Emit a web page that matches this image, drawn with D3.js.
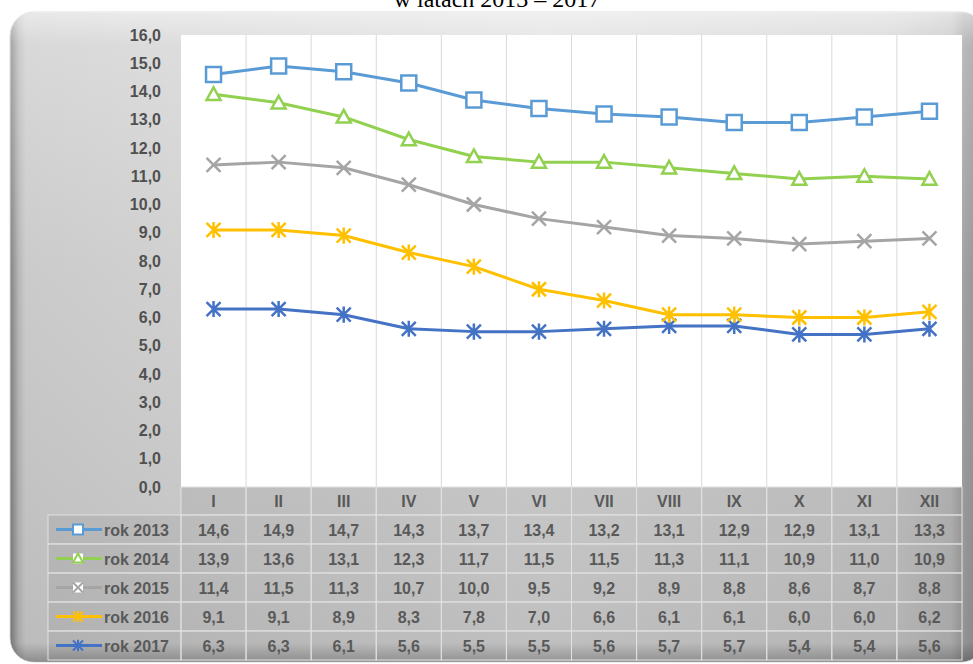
<!DOCTYPE html>
<html>
<head>
<meta charset="utf-8">
<script src="https://cdn.jsdelivr.net/npm/d3@7"></script>
<style>
  body { margin: 0; background: #fff; }
  svg { display: block; }
</style>
</head>
<body>
<script>
// data
const months = ["I", "II", "III", "IV", "V", "VI", "VII", "VIII", "IX", "X", "XI", "XII"];
const seriesNames = ["rok 2013", "rok 2014", "rok 2015", "rok 2016", "rok 2017"];
const rok2013 = [14.6, 14.9, 14.7, 14.3, 13.7, 13.4, 13.2, 13.1, 12.9, 12.9, 13.1, 13.3];
const rok2014 = [13.9, 13.6, 13.1, 12.3, 11.7, 11.5, 11.5, 11.3, 11.1, 10.9, 11.0, 10.9];
const rok2015 = [11.4, 11.5, 11.3, 10.7, 10.0, 9.5, 9.2, 8.9, 8.8, 8.6, 8.7, 8.8];
const rok2016 = [9.1, 9.1, 8.9, 8.3, 7.8, 7.0, 6.6, 6.1, 6.1, 6.0, 6.0, 6.2];
const rok2017 = [6.3, 6.3, 6.1, 5.6, 5.5, 5.5, 5.6, 5.7, 5.7, 5.4, 5.4, 5.6];
const yTicks = d3.range(0, 17, 1);

const app = {

  W: 973,
  H: 664,
  plot: { left: 181, right: 962, top: 35, bottom: 487 },
  legendLeft: 48,
  rowH: 29,

  init: () => {
    app.svg = d3.select("body").append("svg")
      .attr("width", app.W)
      .attr("height", app.H);
    app.frame();
    app.scales();
    app.grid();
    app.lines();
    app.table();
  },

  fmt: (v) => v.toFixed(1).replace(".", ","),

  styles: [
    { color: "#5B9BD5", marker: "square" },
    { color: "#92D050", marker: "triangle" },
    { color: "#A5A5A5", marker: "cross" },
    { color: "#FFC000", marker: "star" },
    { color: "#4472C4", marker: "star" }
  ],

  frame: () => {
    const defs = app.svg.append("defs");
    const h = defs.append("linearGradient").attr("id", "bgH");
    [["0%", "#7a7a7a"], ["0.9%", "#b4b4b4"], ["1.6%", "#c8c8c8"], ["20%", "#cfcfcf"], ["55%", "#dadada"],
     ["90%", "#cdcdcd"], ["96.5%", "#bcbcbc"], ["98%", "#9a9a9a"], ["100%", "#8a8a8a"]]
      .forEach(s => h.append("stop").attr("offset", s[0]).attr("stop-color", s[1]));
    const v = defs.append("linearGradient").attr("id", "bgV")
      .attr("x1", 0).attr("x2", 0).attr("y1", 0).attr("y2", 1);
    v.append("stop").attr("offset", "0%").attr("stop-color", "#fff").attr("stop-opacity", 0.6);
    v.append("stop").attr("offset", "5%").attr("stop-color", "#fff").attr("stop-opacity", 0.3);
    v.append("stop").attr("offset", "40%").attr("stop-color", "#fff").attr("stop-opacity", 0.05);
    v.append("stop").attr("offset", "97%").attr("stop-color", "#000").attr("stop-opacity", 0.06);
    v.append("stop").attr("offset", "100%").attr("stop-color", "#000").attr("stop-opacity", 0.3);

    // title, mostly cut off at the top of the picture
    app.svg.append("text")
      .attr("x", 497)
      .attr("y", 7)
      .attr("text-anchor", "middle")
      .style("font-family", "'Liberation Serif', 'Times New Roman', serif")
      .style("font-size", "24px")
      .style("fill", "#000")
      .text("w latach 2013 – 2017");

    app.svg.append("rect")
      .attr("x", 10).attr("y", 12)
      .attr("width", 975).attr("height", 650)
      .attr("rx", 24)
      .style("fill", "url(#bgH)")
      .style("stroke", "#dcdcdc");
    app.svg.append("rect")
      .attr("x", 10).attr("y", 12)
      .attr("width", 975).attr("height", 650)
      .attr("rx", 24)
      .style("fill", "url(#bgV)");
  },

  scales: () => {
    const p = app.plot;
    app.x = d3.scaleBand().domain(months).range([p.left, p.right]);
    app.y = d3.scaleLinear().domain([0, 16]).range([p.bottom, p.top]);
  },

  grid: () => {
    const p = app.plot;
    app.svg.append("rect")
      .attr("x", p.left).attr("y", p.top)
      .attr("width", p.right - p.left).attr("height", p.bottom - p.top)
      .style("fill", "#fff");

    // vertical grid lines at the column edges
    app.svg.append("g").selectAll("line")
      .data(months.slice(1))
      .enter()
      .append("line")
      .attr("x1", d => app.x(d)).attr("x2", d => app.x(d))
      .attr("y1", p.top).attr("y2", p.bottom)
      .style("stroke", "#d9d9d9")
      .style("stroke-width", 1);

    const yAxis = d3.axisLeft(app.y)
      .tickValues(yTicks)
      .tickFormat(app.fmt)
      .tickSize(0)
      .tickPadding(0);
    const g = app.svg.append("g")
      .attr("transform", "translate(161,0)")
      .call(yAxis);
    g.select(".domain").remove();
    g.selectAll("text")
      .style("font-family", "'Liberation Sans', Arial, sans-serif")
      .style("font-size", "16px")
      .style("font-weight", "bold")
      .style("fill", "#505050");
  },

  markerPath: (type, s) => {
    const r = s / 2;
    if (type === "square") return `M${-r},${-r}H${r}V${r}H${-r}Z`;
    if (type === "triangle") return `M0,${-r}L${r},${r * 0.8}H${-r}Z`;
    if (type === "cross") return `M${-r},${-r}L${r},${r}M${r},${-r}L${-r},${r}`;
    return `M${-r},${-r}L${r},${r}M${r},${-r}L${-r},${r}M0,${-r * 1.15}V${r * 1.15}`;
  },

  drawMarker: (sel, st, size, sw) => {
    sel.append("path")
      .attr("d", app.markerPath(st.marker, size))
      .style("fill", (st.marker === "square" || st.marker === "triangle") ? "#fff" : "none")
      .style("stroke", st.color)
      .style("stroke-width", sw);
  },

  lines: () => {
    const all = [rok2013, rok2014, rok2015, rok2016, rok2017];
    const cx = (i) => app.x(months[i]) + app.x.bandwidth() / 2;
    const line = d3.line()
      .x((d, i) => cx(i))
      .y(d => app.y(d));

    // draw bottom series first so 2013 sits on top
    all.slice().reverse().forEach((vals, k) => {
      const si = all.length - 1 - k;
      const st = app.styles[si];
      const g = app.svg.append("g");
      g.append("path")
        .datum(vals)
        .attr("d", line)
        .style("fill", "none")
        .style("stroke", st.color)
        .style("stroke-width", 3)
        .style("stroke-linejoin", "round");
      const size = st.marker === "square" ? 15 : 14;
      g.selectAll("g.m")
        .data(vals)
        .enter()
        .append("g")
        .attr("class", "m")
        .attr("transform", (d, i) => `translate(${cx(i)},${app.y(d)})`)
        .each(function () { app.drawMarker(d3.select(this), st, size, 2.5); });
    });
  },

  table: () => {
    const p = app.plot;
    const all = [rok2013, rok2014, rok2015, rok2016, rok2017];
    const top = p.bottom;
    const headH = 28;
    const cellFill = "rgba(110,110,110,0.13)";
    const rowTop = (r) => top + headH + r * app.rowH;
    const textStyle = (s) => s
      .style("font-family", "'Liberation Sans', Arial, sans-serif")
      .style("font-size", "16px")
      .style("font-weight", "bold")
      .style("fill", "#595959");
    const g = app.svg.append("g");

    // header row with month labels
    g.selectAll("rect.h")
      .data(months)
      .enter()
      .append("rect")
      .attr("x", d => app.x(d)).attr("y", top)
      .attr("width", app.x.bandwidth()).attr("height", headH)
      .style("fill", cellFill)
      .style("stroke", "#e2e2e2");
    g.selectAll("text.h")
      .data(months)
      .enter()
      .append("text")
      .attr("x", d => app.x(d) + app.x.bandwidth() / 2)
      .attr("y", top + headH / 2 + 6)
      .attr("text-anchor", "middle")
      .call(textStyle)
      .text(d => d);

    all.forEach((vals, r) => {
      const st = app.styles[r];
      const y0 = rowTop(r);
      // legend cell
      g.append("rect")
        .attr("x", app.legendLeft).attr("y", y0)
        .attr("width", p.left - app.legendLeft).attr("height", app.rowH)
        .style("fill", cellFill)
        .style("stroke", "#e2e2e2");
      g.append("line")
        .attr("x1", 56).attr("x2", 102)
        .attr("y1", y0 + app.rowH / 2).attr("y2", y0 + app.rowH / 2)
        .style("stroke", st.color)
        .style("stroke-width", 3);
      const key = g.append("g").attr("transform", `translate(78,${y0 + app.rowH / 2})`);
      key.append("rect")
        .attr("x", -5).attr("y", -5).attr("width", 10).attr("height", 10)
        .style("fill", st.marker === "star" ? st.color : "#fff")
        .style("opacity", st.marker === "star" ? 0 : 1);
      app.drawMarker(key, st, 10, 2);
      g.append("text")
        .attr("x", 104)
        .attr("y", y0 + app.rowH / 2 + 6)
        .call(textStyle)
        .text(seriesNames[r]);

      // value cells
      g.selectAll(null)
        .data(vals)
        .enter()
        .append("rect")
        .attr("x", (d, i) => app.x(months[i])).attr("y", y0)
        .attr("width", app.x.bandwidth()).attr("height", app.rowH)
        .style("fill", cellFill)
        .style("stroke", "#e2e2e2");
      g.selectAll(null)
        .data(vals)
        .enter()
        .append("text")
        .attr("x", (d, i) => app.x(months[i]) + app.x.bandwidth() / 2)
        .attr("y", y0 + app.rowH / 2 + 6)
        .attr("text-anchor", "middle")
        .call(textStyle)
        .text(d => app.fmt(d));
    });
  }

}

app.init();
</script>
</body>
</html>
